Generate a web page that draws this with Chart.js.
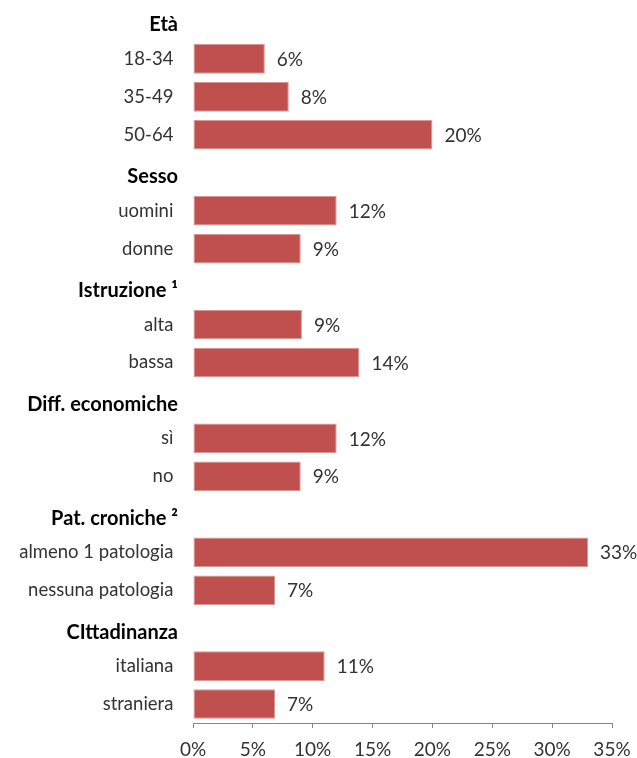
<!DOCTYPE html>
<html>
<head>
<meta charset="utf-8">
<script src="https://cdn.jsdelivr.net/npm/chart.js@4.4.0/dist/chart.umd.min.js"></script>
<style>
  html, body { margin: 0; padding: 0; background: #fff; }
</style>
</head>
<body>
<canvas id="chartContainer" width="637" height="758"></canvas>
<script>
// righe del grafico: intestazioni di gruppo (senza barra) e voci
var labels = ['Età', '18-34', '35-49', '50-64',
              'Sesso', 'uomini', 'donne',
              'Istruzione \u00b9', 'alta', 'bassa',
              'Diff. economiche', 'sì', 'no',
              'Pat. croniche \u00b2', 'almeno 1 patologia', 'nessuna patologia',
              'CIttadinanza', 'italiana', 'straniera'];
var isHeader = [true, false, false, false,
                true, false, false,
                true, false, false,
                true, false, false,
                true, false, false,
                true, false, false];
// valori percentuali (null = riga di intestazione)
var values = [null, 6.0, 8.0, 20.0,
              null, 12.0, 9.0,
              null, 9.1, 13.9,
              null, 12.0, 9.0,
              null, 33.0, 6.85,
              null, 11.0, 6.85];
var xTicks = [0, 5, 10, 15, 20, 25, 30, 35];

var FONT = 'Lato, "Open Sans", sans-serif';

// etichette dei valori a fine barra
var valueLabels = {
    id: 'valueLabels',
    afterDatasetsDraw: function (chart) {
        var ctx = chart.ctx;
        var meta = chart.getDatasetMeta(0);
        ctx.save();
        ctx.font = '19px ' + FONT;
        ctx.fillStyle = '#333333';
        ctx.textAlign = 'left';
        ctx.textBaseline = 'middle';
        meta.data.forEach(function (bar, i) {
            if (values[i] === null) return;
            ctx.fillText(Math.round(values[i]) + '%', bar.x + 12, bar.y + 1);
        });
        ctx.restore();
    }
};

var ctx = document.getElementById('chartContainer').getContext('2d');
var myChart = new Chart(ctx, {
    type: 'bar',
    data: {
        labels: labels,
        datasets: [{
            data: values,
            backgroundColor: '#C0504D',
            borderColor: '#d99795',
            borderWidth: 1,
            borderSkipped: false,
            barPercentage: 0.78,
            categoryPercentage: 1.0
        }]
    },
    options: {
        indexAxis: 'y',
        responsive: false,
        animation: false,
        layout: { padding: { top: 2, right: 25, left: 0, bottom: 0 } },
        plugins: {
            legend: { display: false },
            tooltip: { enabled: false },
            title: { display: false }
        },
        scales: {
            x: {
                type: 'linear',
                position: 'bottom',
                min: 0,
                max: 35,
                afterBuildTicks: function (scale) {
                    scale.ticks = xTicks.map(function (v) { return { value: v }; });
                },
                afterFit: function (scale) {
                    scale.height = 35;
                    scale.paddingLeft = 0;
                    scale.paddingRight = 0;
                },
                ticks: {
                    color: '#333333',
                    font: { family: FONT, size: 19 },
                    padding: 10,
                    maxRotation: 0,
                    callback: function (v) { return v + '%'; }
                },
                grid: {
                    display: true,
                    drawOnChartArea: false,
                    drawTicks: true,
                    tickLength: 5,
                    color: '#868686'
                },
                border: { display: true, color: '#868686', width: 1 }
            },
            y: {
                type: 'category',
                afterFit: function (scale) {
                    scale.width = 193;
                    scale.paddingTop = 0;
                    scale.paddingBottom = 0;
                },
                ticks: {
                    padding: 15,
                    autoSkip: false,
                    color: function (c) { return isHeader[c.index] ? '#000000' : '#333333'; },
                    font: function (c) {
                        // intestazioni un po' più in basso (riga vuota sopra, interlinea stretta)
                        return isHeader[c.index]
                            ? { family: FONT, size: 20, weight: 'bold', lineHeight: 0.4 }
                            : { family: FONT, size: 18.5 };
                    },
                    callback: function (v, i) {
                        return isHeader[i] ? ['', labels[i]] : labels[i] + '\u2005';
                    }
                },
                grid: { display: false, drawTicks: false, tickLength: 0 },
                border: { display: false }
            }
        }
    },
    plugins: [valueLabels]
});
</script>
</body>
</html>
